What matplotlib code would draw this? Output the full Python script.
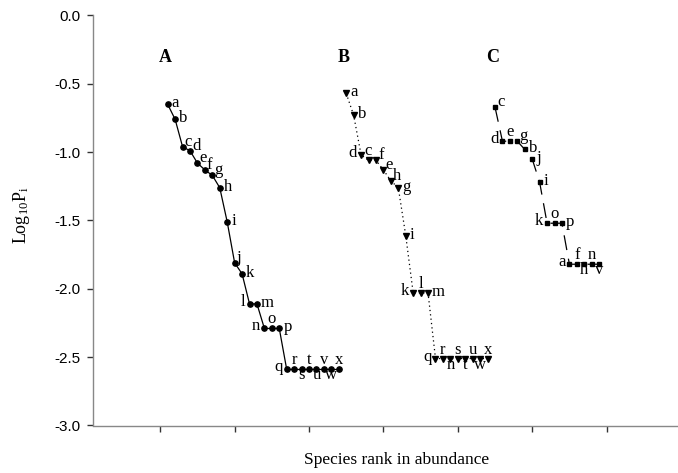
import numpy as np
import matplotlib
matplotlib.use("Agg")
import matplotlib.pyplot as plt

plt.rcParams["mathtext.fontset"] = "custom"
plt.rcParams["mathtext.rm"] = "Liberation Serif"
plt.rcParams["mathtext.it"] = "Liberation Serif:italic"

# ---- data: species rank-abundance (log10 Pi) for three assemblages ----
species_a = list("abcdefghijklmnopqrstuvwx")
logp_a = [-0.65, -0.76, -0.96, -0.99, -1.08, -1.13, -1.17, -1.26, -1.51, -1.81,
          -1.89, -2.11, -2.11, -2.29, -2.29, -2.29,
          -2.59, -2.59, -2.59, -2.59, -2.59, -2.59, -2.59, -2.59]

species_b = ["a", "b", "d", "c", "f", "e", "h", "g", "i", "k", "l", "m",
             "q", "r", "n", "s", "t", "u", "w", "x"]
logp_b = [-0.57, -0.73, -1.02, -1.06, -1.06, -1.13, -1.21, -1.26, -1.61,
          -2.03, -2.03, -2.03,
          -2.51, -2.51, -2.51, -2.51, -2.51, -2.51, -2.51, -2.51]

species_c = ["c", "d", "e", "g", "b", "j", "i", "k", "o", "p", "a", "f", "h", "n", "v"]
logp_c = [-0.67, -0.92, -0.92, -0.92, -0.98, -1.05, -1.22, -1.52, -1.52, -1.52,
          -1.82, -1.82, -1.82, -1.82, -1.82]

# label placement per point (r=right, ur=upper right, a=above, b=below, l=left)
place_a = ["r", "r", "ur", "ur", "ur", "ur", "ur", "r", "r", "ur", "r", "l", "r",
           "l", "a", "r", "l", "a", "b", "a", "b", "a", "b", "a"]
place_b = ["r", "r", "l", "a", "ur", "ur", "ur", "r", "r", "l", "a", "r",
           "l", "a", "b", "a", "b", "a", "b", "a"]
place_c = ["ur", "l", "a", "ur", "r", "r", "r", "l", "a", "r", "l", "a", "b", "a", "b"]

panel_names = ["A", "B", "C"]

PX = 0.72  # points per pixel at 100 dpi
OFFS = {
    "r": (4 * PX, -3 * PX, "left"),
    "ur": (2 * PX, 1 * PX, "left"),
    "a": (0, 5 * PX, "center"),
    "b": (0, -10 * PX, "center"),
    "l": (-4 * PX, -2 * PX, "right"),
}
SERIF = "Liberation Serif"


def draw(ax, start, species, logp, place, marker, ls, ms):
    x = np.arange(start, start + len(logp))
    ax.plot(x, logp, color="black", lw=0.9, linestyle=ls, marker=marker,
            ms=ms, mfc="black", mec="black", zorder=3)
    for xi, yi, s, p in zip(x, logp, species, place):
        dx, dy, ha = OFFS[p]
        ax.annotate(s, (xi, yi), xytext=(dx, dy), textcoords="offset points",
                    ha=ha, va="baseline", fontsize=12, family=SERIF)
    return x


fig = plt.figure(figsize=(6.78, 4.73), dpi=100)
ax = fig.add_axes([93.3 / 678, 1 - 425.5 / 473, 1 - 93.3 / 678, (425.5 - 15.5) / 473])

xa = draw(ax, 1, species_a, logp_a, place_a, "o", "-", 3.8)
xb = draw(ax, xa[-1] + 1, species_b, logp_b, place_b, "v", (0, (1, 2.5)), 4.2)
xc = draw(ax, xb[-1] + 1, species_c, logp_c, place_c, "s", (0, (12, 7)), 3.4)

# panel letters
for name, xs in zip(panel_names, [xa, xb, xc]):
    ax.text(xs[0] - 0.3, -0.31, name, fontsize=13, fontweight="bold",
            family=SERIF, ha="center", va="center")

ax.set_xlim(-9, 69.6)
ax.set_ylim(-3.0, 0.0)
ax.set_xticks(np.arange(0, 61, 10))
ax.set_xticklabels([])
ax.set_yticks(np.arange(-3.0, 0.01, 0.5))
ax.set_yticklabels([f"{v:.1f}" for v in np.arange(-3.0, 0.01, 0.5)],
                   family="Liberation Sans", fontsize=11)
ax.tick_params(axis="both", direction="out", length=4.5, width=1, color="#333333", pad=5)
for side in ("top", "right"):
    ax.spines[side].set_visible(False)
for side in ("left", "bottom"):
    ax.spines[side].set_color("#888888")
    ax.spines[side].set_linewidth(1.0)

fig.text(22 / 678, 1 - 215 / 473, r"Log$_{10}$P$_{\mathrm{i}}$", rotation=90,
         family=SERIF, fontsize=13, ha="center", va="center")
fig.text(397 / 678, 1 - 460 / 473, "Species rank in abundance", family=SERIF,
         fontsize=12.5, ha="center", va="center")

fig.savefig("out.png", dpi=100)
